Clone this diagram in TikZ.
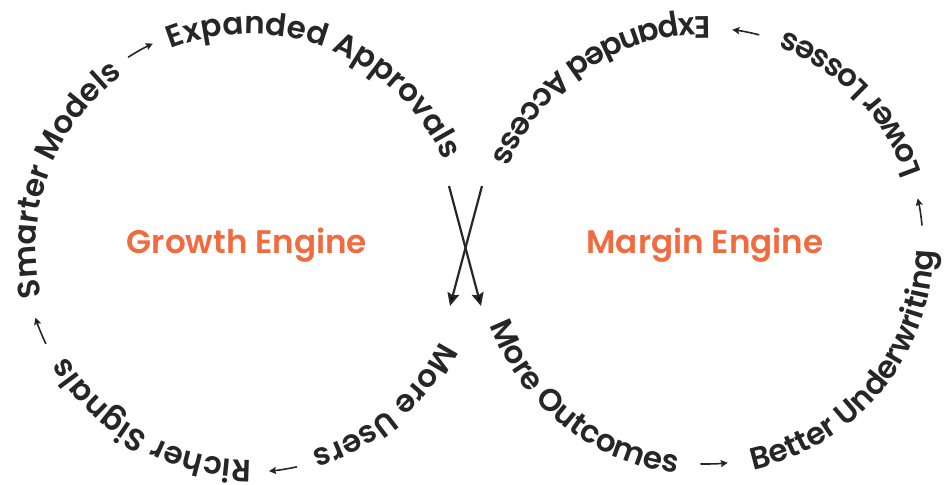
\documentclass[tikz,border=0pt]{standalone}
\usepackage{fontspec}
\usetikzlibrary{decorations.text,arrows.meta}
\newfontfamily\ringfont{Poppins SemiBold}
\newfontfamily\labelfont{Poppins SemiBold}
\definecolor{ink}{HTML}{262626}
\definecolor{flame}{HTML}{F26B3F}
\newcommand\ringstyle{\ringfont\fontsize{31pt}{31pt}\selectfont}

% text running clockwise (glyphs stand outside the circle)
\newcommand\cwtext[4]{%
  \path[decorate,decoration={text along path,text={|\ringstyle|#4},
        text align=center,text color=ink}]
    (#1) ++({#3+70}:#2) arc[start angle={#3+70},end angle={#3-70},radius=#2];}
% text running counter-clockwise (glyphs hang inside the circle)
\newcommand\ccwtext[4]{%
  \path[decorate,decoration={text along path,text={|\ringstyle|#4},
        text align=center,text color=ink}]
    (#1) ++({#3-70}:#2) arc[start angle={#3-70},end angle={#3+70},radius=#2];}
% small arrows between the phrases of a ring
\newcommand\cwarrow[3]{%
  \draw[ringarrow] (#1) ++({#3+3.6}:#2) arc[start angle={#3+3.6},end angle={#3-3.6},radius=#2];}
\newcommand\ccwarrow[3]{%
  \draw[ringarrow] (#1) ++({#3-3.6}:#2) arc[start angle={#3-3.6},end angle={#3+3.6},radius=#2];}

\begin{document}
\begin{tikzpicture}[x=1pt,y=1pt,
  ringarrow/.style={draw=ink,line width=1.6pt,-{Stealth[length=7pt,width=7pt,inset=1pt]}},
  crossarrow/.style={draw=ink,line width=2.2pt,-{Stealth[length=13pt,width=12pt,inset=2pt]}},
  enginelabel/.style={text=flame,font=\labelfont\fontsize{32.6pt}{32.6pt}\selectfont,inner sep=0pt}]
\useasboundingbox (0,0) rectangle (946,485);

\coordinate (growth) at (249,238);
\coordinate (margin) at (705,239);

% growth loop
\cwtext{growth}{213}{159.8}{Smarter Models}
\cwarrow{growth}{225}{118.9}
\cwtext{growth}{213}{67.75}{Expanded Approvals}
\cwtext{growth}{213}{-49.55}{More Users}
\cwarrow{growth}{225}{-81.3}
\cwtext{growth}{213}{-119.15}{Richer Signals}
\cwarrow{growth}{225}{-158.1}

% margin loop
\ccwtext{margin}{229}{231.6}{More Outcomes}
\ccwarrow{margin}{218}{272.4}
\ccwtext{margin}{229}{320.5}{Better Underwriting}
\ccwarrow{margin}{218}{9}
\ccwtext{margin}{229}{44.2}{Lower Losses}
\ccwarrow{margin}{218}{79.2}
\ccwtext{margin}{229}{123.2}{Expanded Access}

\node[enginelabel] (growthlabel) at (247,240) {Growth Engine};
\node[enginelabel] (marginlabel) at (705,240) {Margin Engine};

% hand-over between the two loops
\coordinate (approvalsEnd) at (449,299);
\coordinate (outcomesStart) at (481,179);
\coordinate (accessEnd) at (482,299);
\coordinate (usersStart) at (450,179);
\draw[crossarrow] (approvalsEnd) -- (outcomesStart);
\draw[crossarrow] (accessEnd) -- (usersStart);
\end{tikzpicture}
\end{document}
